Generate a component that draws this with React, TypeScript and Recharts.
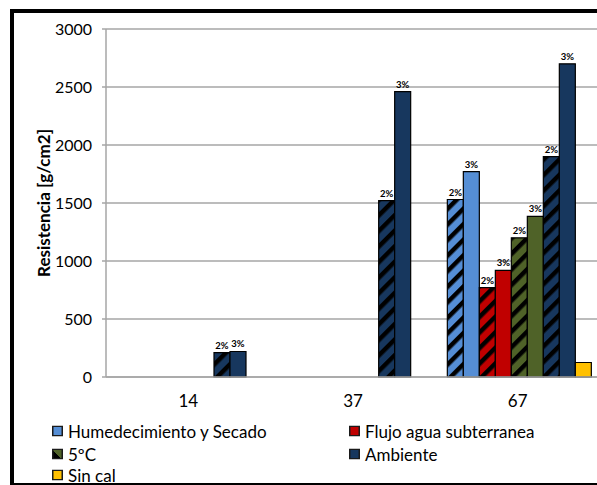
import React from "react"
import { BarChart, Bar, XAxis, YAxis, CartesianGrid, LabelList } from "recharts"

const FONT = "Lato, 'Liberation Sans', sans-serif"

// días de curado
const categories = ["14", "37", "67"]

// resistencia [g/cm2] por tratamiento y % de cal
const humSec2 = [null, null, 1530]
const humSec3 = [null, null, 1770]
const flujo2 = [null, null, 770]
const flujo3 = [null, null, 920]
const frio2 = [null, null, 1200]
const frio3 = [null, null, 1385]
const amb2 = [210, 1520, 1900]
const amb3 = [220, 2460, 2700]
const sinCal = [null, null, 125]

const yTicks = [0, 500, 1000, 1500, 2000, 2500, 3000]

const COLORS = {
  hs: "#558ed5",
  fl: "#c00000",
  fr: "#4f6228",
  am: "#17375e",
  sc: "#ffc000",
}

const series = [
  { key: "hs2", values: humSec2, color: COLORS.hs, hatched: true, pct: "2%" },
  { key: "hs3", values: humSec3, color: COLORS.hs, hatched: false, pct: "3%" },
  { key: "fl2", values: flujo2, color: COLORS.fl, hatched: true, pct: "2%" },
  { key: "fl3", values: flujo3, color: COLORS.fl, hatched: false, pct: "3%" },
  { key: "fr2", values: frio2, color: COLORS.fr, hatched: true, pct: "2%" },
  { key: "fr3", values: frio3, color: COLORS.fr, hatched: false, pct: "3%" },
  { key: "am2", values: amb2, color: COLORS.am, hatched: true, pct: "2%" },
  { key: "am3", values: amb3, color: COLORS.am, hatched: false, pct: "3%" },
  { key: "sc", values: sinCal, color: COLORS.sc, hatched: false, pct: null },
]

const legendItems = [
  { name: "Humedecimiento y Secado", color: COLORS.hs, hatched: false },
  { name: "Flujo agua subterranea", color: COLORS.fl, hatched: false },
  { name: "5ºC", color: COLORS.fr, hatched: true },
  { name: "Ambiente", color: COLORS.am, hatched: false },
  { name: "Sin cal", color: COLORS.sc, hatched: false },
]

const data = categories.map((dias, i) => {
  const row: Record<string, string | number | null> = { dias }
  series.forEach((s) => {
    row[s.key] = s.values[i]
  })
  return row
})

function Hatch({ id, color }: { id: string; color: string }) {
  return (
    <pattern id={id} patternUnits="userSpaceOnUse" width="11" height="11" patternTransform="rotate(45)">
      <rect width="11" height="11" fill={color} />
      <rect width="4.5" height="11" fill="#000" />
    </pattern>
  )
}

const pctLabel = (text: string) => (props: any) => {
  const { x, y, width, value } = props
  if (value == null) return null
  return (
    <text
      x={Number(x) + Number(width) / 2}
      y={Number(y) - 4}
      textAnchor="middle"
      fontSize={9.5}
      fontWeight="bold"
      fontFamily={FONT}
      fill="#000"
    >
      {text}
    </text>
  )
}

function LegendIcon({ color, hatched }: { color: string; hatched: boolean }) {
  return (
    <svg width="11" height="11" style={{ display: "block" }}>
      {hatched && (
        <defs>
          <linearGradient id="legend-hatch" x1="0" y1="1" x2="1" y2="0">
            <stop offset="0.45" stopColor="#000" />
            <stop offset="0.45" stopColor={color} />
          </linearGradient>
        </defs>
      )}
      <rect x="0.75" y="0.75" width="9.5" height="9.5" fill={hatched ? "url(#legend-hatch)" : color} stroke="#1a1a1a" strokeWidth="1.5" />
    </svg>
  )
}

export default function App() {
  const legendPos = [
    { left: 52, top: 431 },
    { left: 349, top: 431 },
    { left: 52, top: 454 },
    { left: 349, top: 454 },
    { left: 52, top: 475 },
  ]

  return (
    <div
      style={{
        position: "absolute",
        left: 0,
        top: 0,
        width: 597,
        height: 485,
        overflow: "hidden",
        background: "#fff",
        fontFamily: FONT,
      }}
    >
      <svg width="0" height="0" style={{ position: "absolute" }}>
        <defs>
          {series
            .filter((s) => s.hatched)
            .map((s) => (
              <Hatch key={s.key} id={`hatch-${s.key}`} color={s.color} />
            ))}
        </defs>
      </svg>

      <div style={{ position: "absolute", left: 0, top: 0, width: 597, height: 485, overflow: "hidden" }}>
        <BarChart
          width={620}
          height={485}
          data={data}
          margin={{ top: 29, right: 20, left: 0, bottom: 0 }}
          barCategoryGap={12}
          barGap={0}
        >
          <CartesianGrid vertical={false} stroke="#a6a6a6" strokeWidth={1.5} />
          <XAxis
            dataKey="dias"
            height={108}
            axisLine={{ stroke: "#a6a6a6", strokeWidth: 1.5 }}
            tickLine={false}
            tickSize={0}
            tickMargin={18}
            tick={{ fontSize: 17, fill: "#000", fontFamily: FONT }}
          />
          <YAxis
            width={106}
            domain={[0, 3000]}
            ticks={yTicks}
            interval={0}
            axisLine={{ stroke: "#a6a6a6", strokeWidth: 1.5 }}
            tickLine={{ stroke: "#a6a6a6", strokeWidth: 1.5 }}
            tickSize={4}
            tickMargin={10}
            tick={{ fontSize: 16, fill: "#000", fontFamily: FONT }}
          />
          {series.map((s) => (
            <Bar
              key={s.key}
              dataKey={s.key}
              fill={s.hatched ? `url(#hatch-${s.key})` : s.color}
              stroke="#000"
              strokeWidth={1.2}
              isAnimationActive={false}
            >
              {s.pct && <LabelList dataKey={s.key} content={pctLabel(s.pct)} />}
            </Bar>
          ))}
        </BarChart>
      </div>

      <div
        style={{
          position: "absolute",
          left: 43,
          top: 203,
          transform: "translate(-50%, -50%) rotate(-90deg)",
          whiteSpace: "nowrap",
          fontSize: 17,
          fontWeight: "bold",
          color: "#000",
        }}
      >
        Resistencia [g/cm2]
      </div>

      {legendItems.map((item, i) => (
        <div
          key={item.name}
          style={{
            position: "absolute",
            left: legendPos[i].left,
            top: legendPos[i].top,
            transform: "translateY(-50%)",
            display: "flex",
            alignItems: "center",
            gap: 5,
            fontSize: 17,
            color: "#000",
            whiteSpace: "nowrap",
          }}
        >
          <LegendIcon color={item.color} hatched={item.hatched} />
          <span>{item.name}</span>
        </div>
      ))}

      {/* marco exterior: bordes izquierdo, superior e inferior */}
      <div
        style={{
          position: "absolute",
          left: 10,
          top: 9,
          width: 700,
          height: 477,
          boxSizing: "border-box",
          borderStyle: "solid",
          borderColor: "#000",
          borderWidth: "4px 0 3px 4px",
        }}
      />
    </div>
  )
}
